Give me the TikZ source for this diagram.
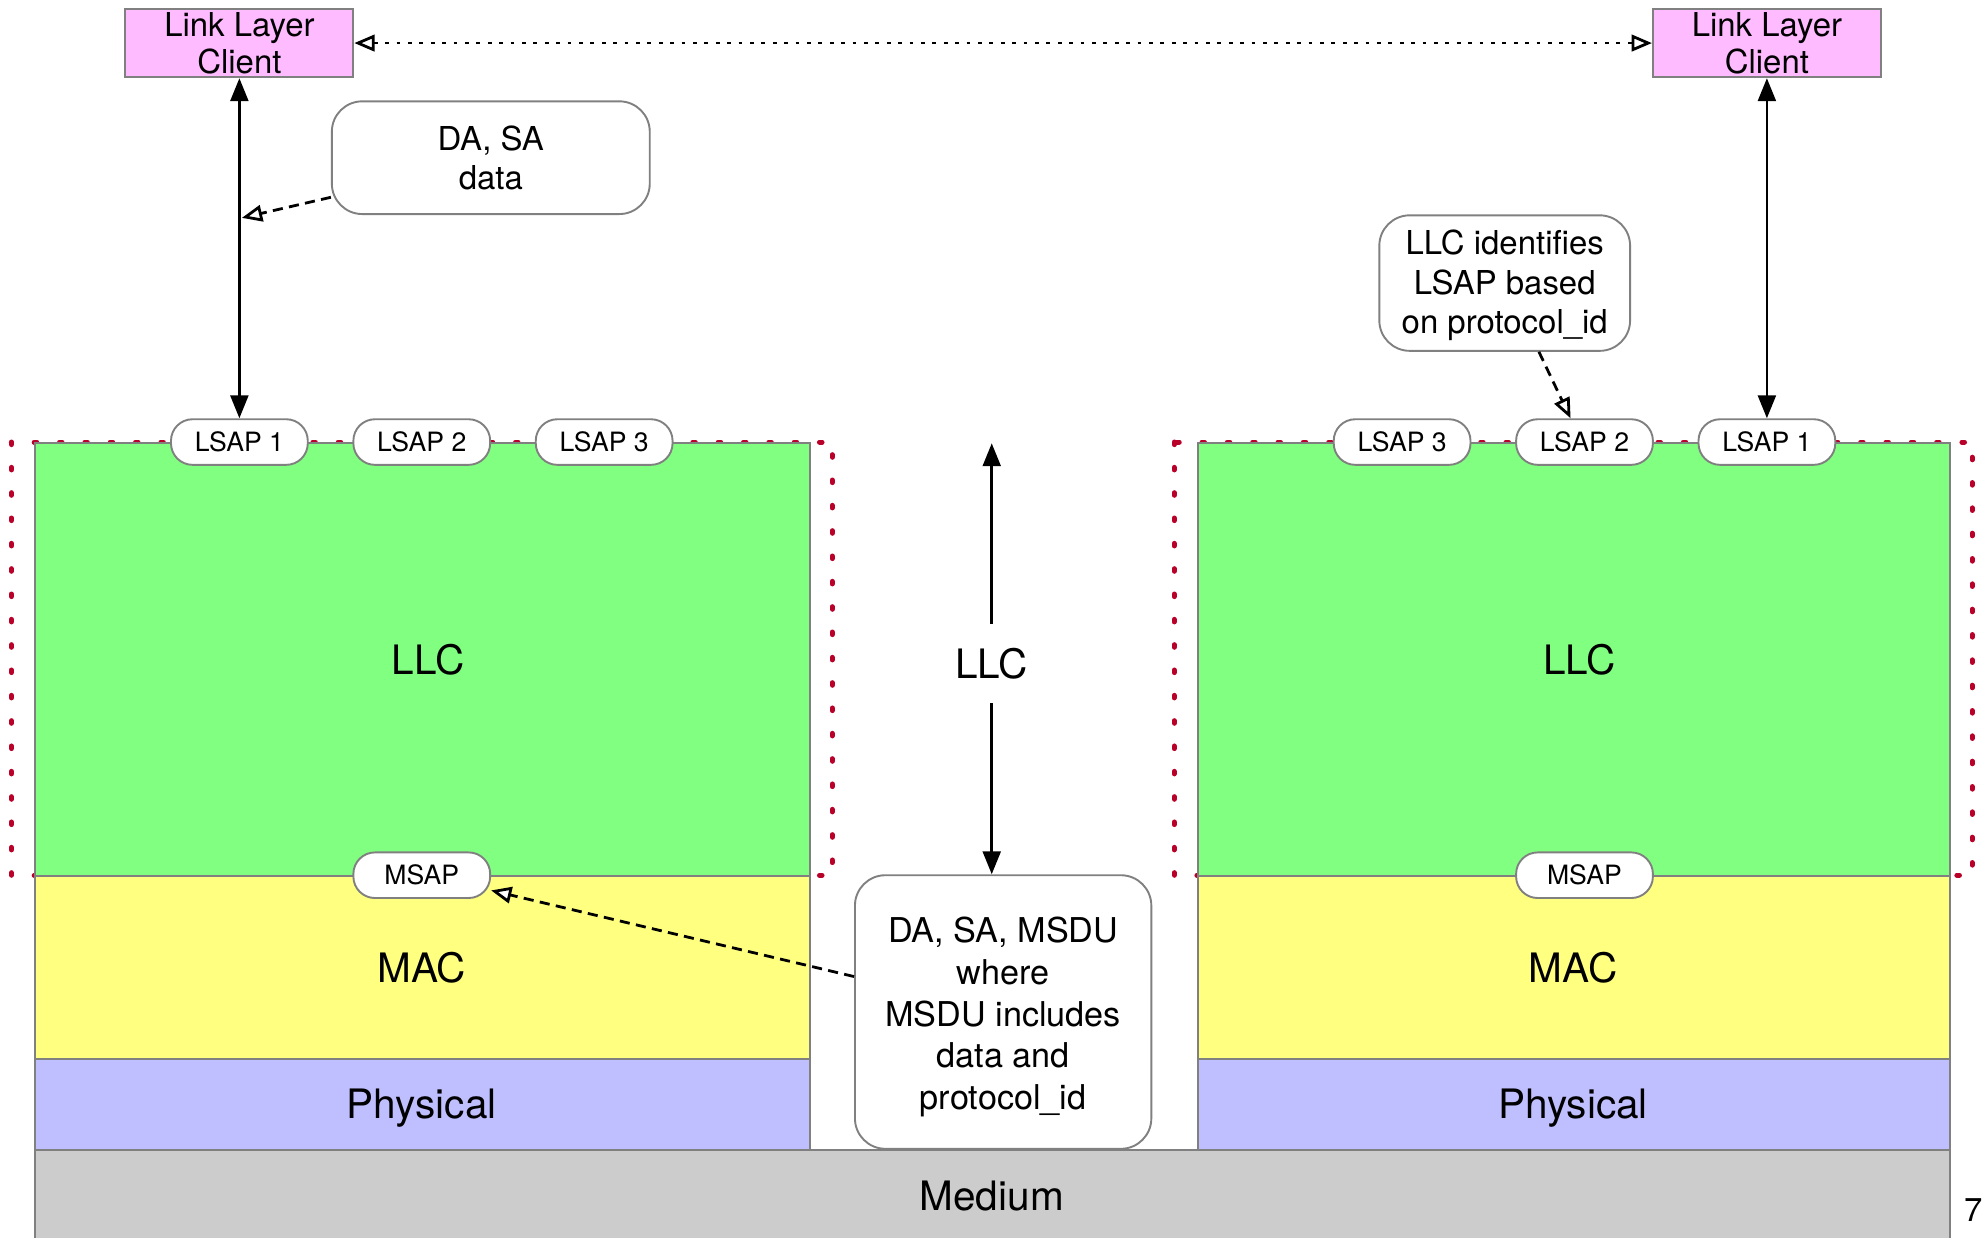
\documentclass[tikz,border=0pt]{standalone}
\usepackage{fontspec}
\setmainfont{TeX Gyre Heros}
\usetikzlibrary{arrows.meta,calc}

\definecolor{clientpink}{RGB}{255,187,255}
\definecolor{llcgreen}{RGB}{128,255,128}
\definecolor{macyellow}{RGB}{255,255,128}
\definecolor{phylav}{RGB}{191,191,255}
\definecolor{medgray}{RGB}{204,204,204}
\definecolor{edgegray}{RGB}{128,128,128}
\definecolor{framered}{RGB}{185,0,40}

\begin{document}
\begin{tikzpicture}[x=1pt,y=-1pt,
  layerbox/.style={draw=edgegray, line width=1.5pt, anchor=north west, inner sep=0pt},
  bigtext/.style={font=\fontsize{32}{38}\selectfont},
  clientbox/.style={draw=edgegray, fill=clientpink, line width=1.5pt, minimum width=180pt,
    minimum height=54pt, inner sep=0pt, align=center, font=\fontsize{26}{29.5}\selectfont},
  sapbox/.style={draw=edgegray, fill=white, line width=1.5pt, rounded corners=17pt,
    minimum width=108pt, minimum height=36pt, inner sep=0pt, font=\fontsize{21}{25}\selectfont},
  callout/.style={draw=edgegray, fill=white, line width=1.5pt, rounded corners=24pt,
    align=center, inner sep=0pt, font=\fontsize{26}{31}\selectfont},
  llcframe/.style={draw=framered, line width=4pt, line cap=round, dash pattern=on 2pt off 18pt},
  solidhead/.tip={Triangle[length=18pt,width=14pt]},
  openhead/.tip={Triangle[open,fill=white,length=16pt,width=13pt]},
  solidarrow/.style={draw=black, line width=2.2pt, -solidhead},
  twoway/.style={draw=black, line width=2.2pt, solidhead-solidhead},
  notearrow/.style={draw=black, line width=2.2pt, dash pattern=on 8pt off 5pt, -openhead},
  peerarrow/.style={draw=black, line width=2.2pt, dash pattern=on 3pt off 6pt, openhead-openhead}
]
\useasboundingbox (0,0) rectangle (1568,977);
\clip (0,0) rectangle (1568,977);

% dotted frames round the two LLC sublayers
\draw[llcframe] (9,349) rectangle (657,691);
\draw[llcframe] (927,349) rectangle (1557,691);

% left protocol stack
\node[layerbox, fill=llcgreen, minimum width=612pt, minimum height=342pt] (llcL) at (27,349) {};
\node[layerbox, fill=macyellow, minimum width=612pt, minimum height=144pt] (macL) at (27,691) {};
\node[layerbox, fill=phylav, minimum width=612pt, minimum height=72pt] (phyL) at (27,835) {};
% right protocol stack
\node[layerbox, fill=llcgreen, minimum width=594pt, minimum height=342pt] (llcR) at (945,349) {};
\node[layerbox, fill=macyellow, minimum width=594pt, minimum height=144pt] (macR) at (945,691) {};
\node[layerbox, fill=phylav, minimum width=594pt, minimum height=72pt] (phyR) at (945,835) {};
% shared medium
\node[layerbox, fill=medgray, minimum width=1512pt, minimum height=100pt] (medium) at (27,907) {};

% layer names
\node[bigtext] (llcLtxt) at (338,521) {LLC};
\node[bigtext] (macLtxt) at (333,764) {MAC};
\node[bigtext] (phyLtxt) at (333,875) {Physical};
\node[bigtext] (llcRtxt) at (1247,521) {LLC};
\node[bigtext] (macRtxt) at (1242,764) {MAC};
\node[bigtext] (phyRtxt) at (1242,875) {Physical};
\node[bigtext] (medtxt) at (783,944) {Medium};

% service access points
\node[sapbox] (lsap1L) at (189,349) {LSAP 1};
\node[sapbox] (lsap2L) at (333,349) {LSAP 2};
\node[sapbox] (lsap3L) at (477,349) {LSAP 3};
\node[sapbox] (lsap3R) at (1107,349) {LSAP 3};
\node[sapbox] (lsap2R) at (1251,349) {LSAP 2};
\node[sapbox] (lsap1R) at (1395,349) {LSAP 1};
\node[sapbox] (msapL) at (333,691) {MSAP};
\node[sapbox] (msapR) at (1251,691) {MSAP};

% link layer clients
\node[clientbox] (clientL) at (189,34) {Link Layer\\Client};
\node[clientbox] (clientR) at (1395,34) {Link Layer\\Client};

% notes
\node[callout, minimum width=251pt, minimum height=89pt] (dasa) at (387.5,124.5) {DA, SA\\data};
\node[callout, minimum width=198pt, minimum height=107pt] (ident) at (1188,223.5)
  {\rule{0pt}{23pt}LLC identifies\\LSAP based\\on protocol\_id};
\node[callout, minimum width=234pt, minimum height=216pt, font=\fontsize{27}{33}\selectfont] (msdu) at (792,799)
  {\rule{0pt}{28pt}DA, SA, MSDU\\where\\MSDU includes\\data and\\protocol\_id};

% peer-to-peer LLC exchange
\node[bigtext, minimum height=62pt, inner sep=0pt] (midllc) at (783,524) {LLC};
\coordinate (midtop) at (783,350);
\draw[solidarrow] (midllc.north) -- (midtop);
\draw[solidarrow] (midllc.south) -- (midllc.south |- msdu.north);

% client to LSAP
\draw[twoway] (clientL.south) -- (lsap1L.north);
\draw[twoway] (clientR.south) -- (lsap1R.north);
\draw[peerarrow] (clientL.east) -- (clientR.west);

% note pointers
\coordinate (hitL) at (191,172);
\draw[notearrow] ($(dasa.south west)+(0,-14)$) -- (hitL);
\draw[notearrow] ($(ident.south)+(27,0)$) -- ($(lsap2R.north)+(-11,0)$);
\draw[notearrow] ($(msdu.west)+(0,-28)$) -- ($(msapL.east)+(0,12)$);

% page number
\node[font=\fontsize{26}{30}\selectfont, inner sep=0pt] (pagenum) at (1558,955) {7};
\end{tikzpicture}
\end{document}
